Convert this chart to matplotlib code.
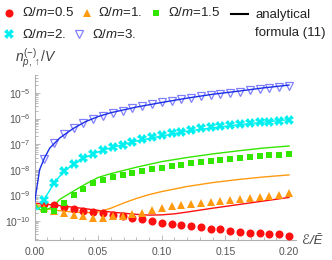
import numpy as np
import matplotlib
matplotlib.use('Agg')
import matplotlib.pyplot as plt
from matplotlib.lines import Line2D
import matplotlib.ticker as ticker

plt.rcParams['font.family'] = ['Liberation Sans', 'DejaVu Sans']
plt.rcParams['mathtext.fontset'] = 'custom'
plt.rcParams['mathtext.rm'] = 'Liberation Sans'
plt.rcParams['mathtext.it'] = 'Liberation Sans:italic'
plt.rcParams['mathtext.bf'] = 'Liberation Sans:bold'

# marker positions (eps / E-bar)
eps_pts = np.linspace(0, 0.2, 27)[1:]

# log10 of n/V
red_pts = [-9.35, -9.38, -9.44, -9.52, -9.6, -9.66, -9.7, -9.75, -9.81, -9.88, -9.93, -10.0, -10.06,
           -10.11, -10.14, -10.2, -10.25, -10.3, -10.33, -10.38, -10.42, -10.45, -10.47, -10.49, -10.52, -10.57]
orange_pts = [-9.5, -9.6, -9.68, -9.75, -9.82, -9.87, -9.9, -9.82, -9.8, -9.74, -9.68, -9.58, -9.5,
              -9.42, -9.37, -9.34, -9.31, -9.27, -9.21, -9.18, -9.14, -9.09, -9.05, -9.01, -8.98, -8.92]
green_pts = [-9.57, -9.6, -9.31, -8.97, -8.74, -8.53, -8.41, -8.3, -8.2, -8.14, -8.05, -7.97, -7.92,
             -7.85, -7.81, -7.75, -7.71, -7.66, -7.62, -7.57, -7.52, -7.49, -7.46, -7.43, -7.41, -7.39]
cyan_pts = [-9.18, -8.52, -8.06, -7.77, -7.54, -7.38, -7.23, -7.12, -7.03, -6.9, -6.81, -6.73, -6.66,
            -6.57, -6.51, -6.45, -6.38, -6.34, -6.29, -6.25, -6.21, -6.18, -6.14, -6.12, -6.09, -6.05]
blue_pts = [-7.59, -6.95, -6.6, -6.35, -6.16, -6.03, -5.88, -5.77, -5.69, -5.6, -5.51, -5.44, -5.37,
            -5.31, -5.25, -5.19, -5.13, -5.08, -5.03, -4.99, -4.95, -4.9, -4.85, -4.8, -4.76, -4.72]

# analytical formula curves
red_x = [0, 0.02, 0.04, 0.06, 0.08, 0.09, 0.10, 0.11, 0.12, 0.14, 0.16, 0.18, 0.20]
red_line = [-9.3, -9.4, -9.52, -9.65, -9.74, -9.77, -9.76, -9.72, -9.65, -9.5, -9.36, -9.22, -9.08]
orange_x = [0, 0.005, 0.01, 0.02, 0.03, 0.04, 0.05, 0.06, 0.07, 0.08, 0.09, 0.10, 0.12, 0.14, 0.16, 0.18, 0.20]
orange_line = [-9.3, -9.45, -9.52, -9.6, -9.65, -9.68, -9.65, -9.5, -9.3, -9.12, -8.97, -8.85, -8.65,
               -8.5, -8.38, -8.28, -8.2]
green_x = [0, 0.004, 0.008, 0.012, 0.016, 0.02, 0.03, 0.04, 0.05, 0.06, 0.08, 0.10, 0.12, 0.14, 0.16, 0.18, 0.20]
green_line = [-9.3, -9.55, -9.6, -9.5, -9.35, -9.15, -8.85, -8.56, -8.3, -8.15, -7.9, -7.68, -7.52,
              -7.38, -7.26, -7.15, -7.07]
cyan_x = [0, 0.002, 0.005, 0.0077, 0.0154, 0.023, 0.031, 0.04, 0.05, 0.06, 0.08, 0.10, 0.12, 0.14, 0.16, 0.18, 0.20]
cyan_line = [-9.3, -9.55, -9.45, -9.15, -8.52, -8.06, -7.77, -7.52, -7.3, -7.14, -6.88, -6.68, -6.49,
             -6.36, -6.24, -6.14, -6.04]
blue_x = [0, 0.0015, 0.004, 0.0077, 0.012, 0.02, 0.03, 0.04, 0.05, 0.06, 0.08, 0.10, 0.12, 0.14, 0.16, 0.18, 0.20]
blue_line = [-9.3, -8.8, -8.0, -7.55, -7.15, -6.75, -6.4, -6.12, -5.92, -5.77, -5.55, -5.37, -5.2,
             -5.05, -4.93, -4.8, -4.69]

y_decades = [-10, -9, -8, -7, -6, -5]

c_red, c_orange, c_green, c_cyan = '#ff1010', '#ff9a10', '#33e600', '#00f0f0'
c_blue, c_blue_m = '#1a2ee6', '#8080ff'

W, H = 332, 260
fig = plt.figure(figsize=(W / 100, H / 100), dpi=100)
x0, x1, ytop, ybot = 34.5, 296, 75, 240
ax = fig.add_axes([x0 / W, 1 - ybot / H, (x1 - x0) / W, (ybot - ytop) / H])

lw = 1.0
ax.plot(red_x, 10 ** np.array(red_line), color=c_red, lw=lw, zorder=2)
ax.plot(orange_x, 10 ** np.array(orange_line), color=c_orange, lw=lw, zorder=2)
ax.plot(green_x, 10 ** np.array(green_line), color=c_green, lw=lw, zorder=2)
ax.plot(cyan_x, 10 ** np.array(cyan_line), color=c_cyan, lw=lw, zorder=2)
ax.plot(blue_x, 10 ** np.array(blue_line), color=c_blue, lw=lw, zorder=4)

ax.plot(eps_pts, 10 ** np.array(red_pts), 'o', color=c_red, ms=5.8, mew=0, zorder=3)
ax.plot(eps_pts, 10 ** np.array(orange_pts), '^', color=c_orange, ms=5.8, mew=0, zorder=3)
ax.plot(eps_pts, 10 ** np.array(green_pts), 's', color=c_green, ms=4.3, mew=0, zorder=3)
ax.plot(eps_pts, 10 ** np.array(cyan_pts), 'X', color=c_cyan, ms=6.5, mew=0, zorder=3)
ax.plot(eps_pts, 10 ** np.array(blue_pts), 'v', mfc='none', mec=c_blue_m, ms=5.5, mew=0.9, zorder=3)

ax.set_yscale('log')
ax.set_xlim(0, (x1 - x0) / 1272.5)
ax.set_ylim(10 ** -10.742, 10 ** -4.297)
ax.set_xticks([0, 0.05, 0.10, 0.15, 0.20])
ax.xaxis.set_major_formatter(ticker.FormatStrFormatter('%.2f'))
ax.xaxis.set_minor_locator(ticker.MultipleLocator(0.01))
ax.yaxis.set_major_locator(ticker.FixedLocator([10.0 ** d for d in y_decades]))
ax.yaxis.set_major_formatter(ticker.LogFormatterSciNotation())
ax.yaxis.set_minor_locator(ticker.FixedLocator([m * 10.0 ** d for d in [-11] + y_decades
                                                for m in range(2, 10)
                                                if 10 ** -10.742 < m * 10.0 ** d < 10 ** -4.297]))
ax.yaxis.set_minor_formatter(ticker.NullFormatter())

for s in ['top', 'right']:
    ax.spines[s].set_visible(False)
for s in ['left', 'bottom']:
    ax.spines[s].set_color('#b0b0b0')
    ax.spines[s].set_linewidth(0.8)
ax.tick_params(which='both', direction='in', colors='#b0b0b0', labelcolor='#555555', labelsize=7.5, width=0.6)
ax.tick_params(which='major', length=3.5)
ax.tick_params(which='minor', length=2)
ax.tick_params(axis='x', pad=5)
ax.tick_params(axis='y', pad=3)

fig.text(15 / W, 1 - 58 / H, r'$n_{p,\uparrow}^{(-)}/V$', fontsize=10, color='#444444', ha='left', va='center')
fig.text(302 / W, 1 - 241 / H, 'ℰ/Ē', fontsize=9.5, style='italic', color='#444444',
         ha='left', va='center', family=['Liberation Sans', 'DejaVu Sans'])

# legend drawn in figure pixels
def fx(px):
    return px / W

def fy(py):
    return 1 - py / H

fs = 9.5
leg = [
    (9.3, 12.5, 'o', c_red, 5.8, None, r'$\Omega/m$=0.5', 21.7),
    (87.3, 13, '^', c_orange, 5.8, None, r'$\Omega/m$=1.', 97.7),
    (156, 13, 's', c_green, 4.3, None, r'$\Omega/m$=1.5', 168),
    (9.3, 34, 'X', c_cyan, 6.5, None, r'$\Omega/m$=2.', 21.7),
    (79, 34, 'v', 'none', 5.5, c_blue_m, r'$\Omega/m$=3.', 91.7),
]
for mx, my, mk, col, ms, ec, lab, tx in leg:
    if ec is None:
        fig.add_artist(Line2D([fx(mx)], [fy(my)], marker=mk, color=col, ms=ms, mew=0, ls='none'))
    else:
        fig.add_artist(Line2D([fx(mx)], [fy(my)], marker=mk, mfc='none', mec=ec, ms=ms, mew=0.9, ls='none'))
    fig.text(fx(tx), fy(my), lab, fontsize=fs, color='#222222', ha='left', va='center')

fig.add_artist(Line2D([fx(231), fx(248)], [fy(14), fy(14)], color='black', lw=1.5))
fig.text(fx(255), fy(15), 'analytical', fontsize=fs, color='#222222', ha='left', va='center')
fig.text(fx(255), fy(33), 'formula (11)', fontsize=fs, color='#222222', ha='left', va='center')

fig.savefig('out.png', dpi=100)
